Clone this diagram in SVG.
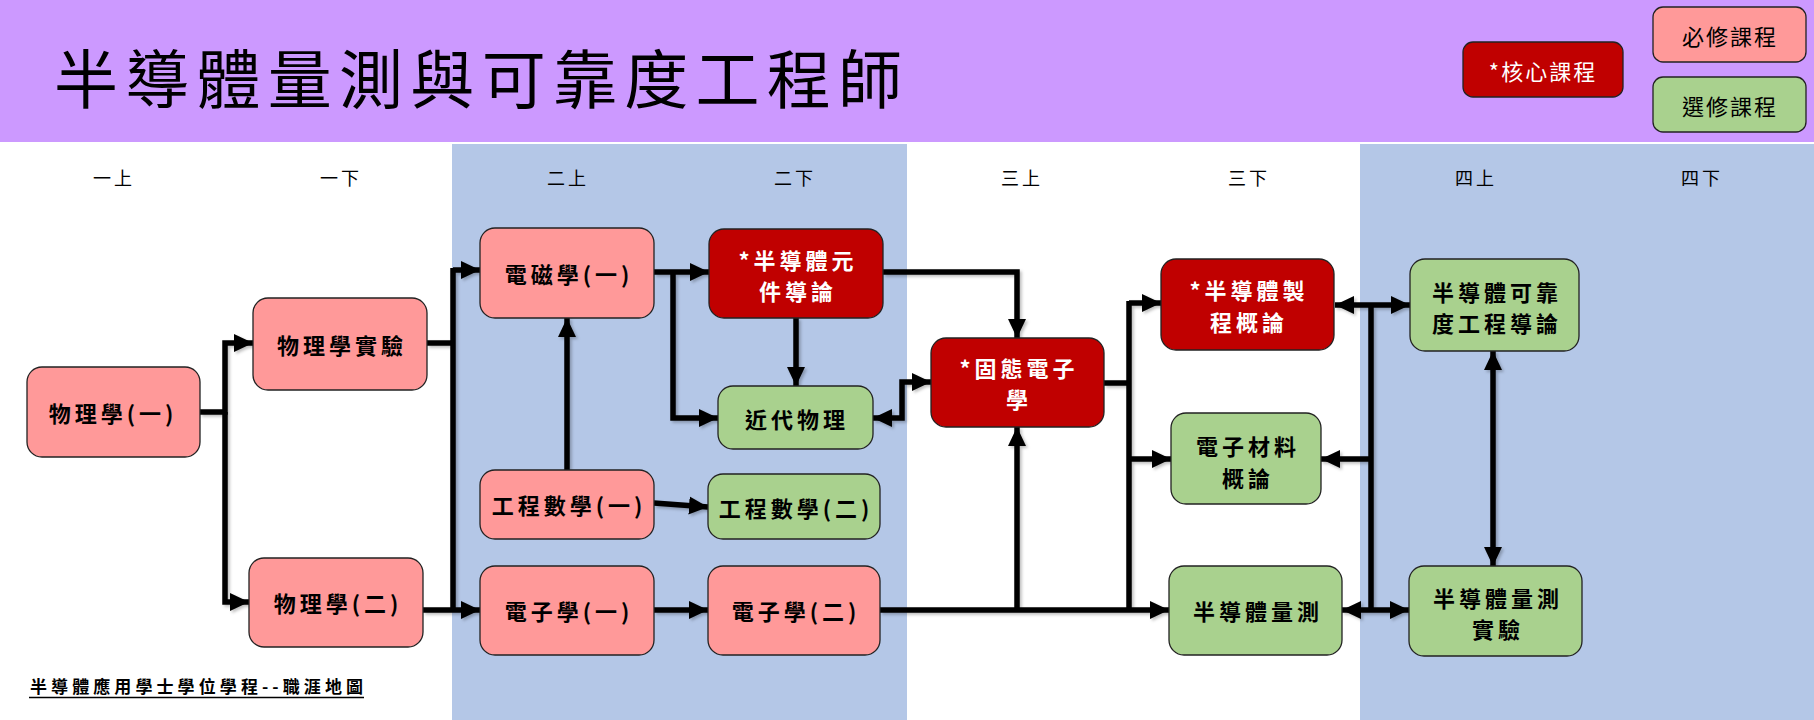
<svg xmlns="http://www.w3.org/2000/svg" width="1814" height="720" viewBox="0 0 1814 720">
<style>
.nt{font-family:"Noto Sans CJK TC","Noto Sans CJK SC",sans-serif;font-size:22px;font-weight:700;text-anchor:middle;dominant-baseline:central;letter-spacing:4px}
.blk{fill:#000}
.wht{fill:#fff}
.req{fill:#FF9999;stroke:#222;stroke-width:1.3}
.ele{fill:#A9D18E;stroke:#222;stroke-width:1.3}
.core{fill:#C00000;stroke:#222;stroke-width:1.3}
.sem{font-family:"Noto Sans CJK TC","Noto Sans CJK SC",sans-serif;font-size:18px;text-anchor:middle;fill:#000;letter-spacing:3px}
.cn path{fill:none;stroke:#000;stroke-width:5.5;stroke-linejoin:miter}
.cn path.a{marker-end:url(#ah)}
.cn path.b{marker-start:url(#ah);marker-end:url(#ah)}
</style>
<defs>
<marker id="ah" markerUnits="userSpaceOnUse" markerWidth="20" markerHeight="20" viewBox="0 0 20 20" refX="19" refY="10" orient="auto-start-reverse">
<path d="M0,1 L19,10 L0,19 z" fill="#000"/>
</marker>
<filter id="sh" x="-10%" y="-10%" width="130%" height="130%">
<feDropShadow dx="2" dy="2" stdDeviation="1.5" flood-color="#000" flood-opacity="0.25"/>
</filter>
</defs>
<rect x="0" y="0" width="1814" height="720" fill="#fff"/>
<rect x="0" y="0" width="1814" height="142" fill="#CC99FF"/>
<rect x="452" y="144" width="455" height="576" fill="#B4C7E7"/>
<rect x="1360" y="144" width="454" height="576" fill="#B4C7E7"/>
<text x="54" y="103" font-family="Noto Sans CJK TC, Noto Sans CJK SC, sans-serif" font-size="64" textLength="848" lengthAdjust="spacing" fill="#000">半導體量測與可靠度工程師</text>
<g id="legend-core"><rect class="core" x="1463" y="42" width="160" height="55" rx="10"/><text class="nt wht" x="1543" y="69.5" style="font-weight:400;letter-spacing:2px">*核心課程</text></g>
<g id="legend-req"><rect class="req" x="1653" y="7" width="153" height="55" rx="10"/><text class="nt blk" x="1730" y="34.5" style="font-weight:400;letter-spacing:2px">必修課程</text></g>
<g id="legend-ele"><rect class="ele" x="1653" y="77" width="153" height="55" rx="10"/><text class="nt blk" x="1730" y="104.5" style="font-weight:400;letter-spacing:2px">選修課程</text></g>
<g id="semesters">
<text class="sem" x="114" y="185">一上</text>
<text class="sem" x="341" y="185">一下</text>
<text class="sem" x="568" y="185">二上</text>
<text class="sem" x="795" y="185">二下</text>
<text class="sem" x="1022" y="185">三上</text>
<text class="sem" x="1249" y="185">三下</text>
<text class="sem" x="1476" y="185">四上</text>
<text class="sem" x="1702" y="185">四下</text>
</g>
<g class="cn" id="connectors" filter="url(#sh)">
<path class="a" d="M200,412 H225 V343 H253"/>
<path class="a" d="M225,412 V602 H249"/>
<path d="M427,343 H453"/>
<path d="M423,610 H453"/>
<path d="M453,268 V610"/>
<path class="a" d="M453,270 H480"/>
<path class="a" d="M453,610 H480"/>
<path class="a" d="M654,272 H709"/>
<path class="a" d="M673,272 V418 H718"/>
<path class="a" d="M796,318 V386"/>
<path class="a" d="M567,470 V318"/>
<path class="a" d="M654,503 L708,507"/>
<path class="a" d="M654,610 H708"/>
<path class="b" d="M873,418 H902 V382 H931"/>
<path class="a" d="M883,272 H1017 V338"/>
<path class="a" d="M880,610 H1169"/>
<path class="a" d="M1017,610 V427"/>
<path d="M1104,383 H1129"/>
<path d="M1129,301 V610"/>
<path class="a" d="M1129,303 H1161"/>
<path class="a" d="M1129,459 H1171"/>
<path d="M1371,303 V612"/>
<path class="a" d="M1371,305 H1335"/>
<path class="a" d="M1371,305 H1410"/>
<path class="a" d="M1371,459 H1321"/>
<path class="a" d="M1371,610 H1342"/>
<path class="a" d="M1371,610 H1409"/>
<path class="b" d="M1493,351 V566"/>
</g>
<g id="n-phy1"><rect class="req" x="27" y="367" width="173" height="90" rx="15"/><text class="nt blk" x="113" y="412">物理學(一)</text></g>
<g id="n-phylab"><rect class="req" x="253" y="298" width="174" height="92" rx="15"/><text class="nt blk" x="342" y="344">物理學實驗</text></g>
<g id="n-phy2"><rect class="req" x="249" y="558" width="174" height="89" rx="15"/><text class="nt blk" x="338" y="602">物理學(二)</text></g>
<g id="n-em1"><rect class="req" x="480" y="228" width="174" height="90" rx="15"/><text class="nt blk" x="569" y="273">電磁學(一)</text></g>
<g id="n-eng1"><rect class="req" x="480" y="470" width="174" height="69" rx="15"/><text class="nt blk" x="569" y="504">工程數學(一)</text></g>
<g id="n-elec1"><rect class="req" x="480" y="566" width="174" height="89" rx="15"/><text class="nt blk" x="569" y="610">電子學(一)</text></g>
<g id="n-semidev"><rect class="core" x="709" y="229" width="174" height="89" rx="15"/><text class="nt wht" x="798" y="259">*半導體元</text><text class="nt wht" x="798" y="290">件導論</text></g>
<g id="n-modphy"><rect class="ele" x="718" y="386" width="155" height="63" rx="15"/><text class="nt blk" x="797" y="418">近代物理</text></g>
<g id="n-eng2"><rect class="ele" x="708" y="474" width="172" height="65" rx="15"/><text class="nt blk" x="796" y="507">工程數學(二)</text></g>
<g id="n-elec2"><rect class="req" x="708" y="566" width="172" height="89" rx="15"/><text class="nt blk" x="796" y="610">電子學(二)</text></g>
<g id="n-solid"><rect class="core" x="931" y="338" width="173" height="89" rx="15"/><text class="nt wht" x="1019" y="367">*固態電子</text><text class="nt wht" x="1019" y="398">學</text></g>
<g id="n-process"><rect class="core" x="1161" y="259" width="173" height="91" rx="15"/><text class="nt wht" x="1249" y="289">*半導體製</text><text class="nt wht" x="1249" y="321">程概論</text></g>
<g id="n-material"><rect class="ele" x="1171" y="413" width="150" height="91" rx="15"/><text class="nt blk" x="1248" y="445">電子材料</text><text class="nt blk" x="1248" y="477">概論</text></g>
<g id="n-measure"><rect class="ele" x="1169" y="566" width="173" height="89" rx="15"/><text class="nt blk" x="1258" y="610">半導體量測</text></g>
<g id="n-reliab"><rect class="ele" x="1410" y="259" width="169" height="92" rx="15"/><text class="nt blk" x="1497" y="291">半導體可靠</text><text class="nt blk" x="1497" y="322">度工程導論</text></g>
<g id="n-measlab"><rect class="ele" x="1409" y="566" width="173" height="90" rx="15"/><text class="nt blk" x="1498" y="597">半導體量測</text><text class="nt blk" x="1498" y="628">實驗</text></g>
<text x="30" y="693" font-family="Noto Sans CJK TC, Noto Sans CJK SC, sans-serif" font-size="17" font-weight="700" textLength="333" lengthAdjust="spacing" fill="#000">半導體應用學士學位學程--職涯地圖</text>
<line x1="29" y1="697.5" x2="364" y2="697.5" stroke="#000" stroke-width="1.3"/>
</svg>
